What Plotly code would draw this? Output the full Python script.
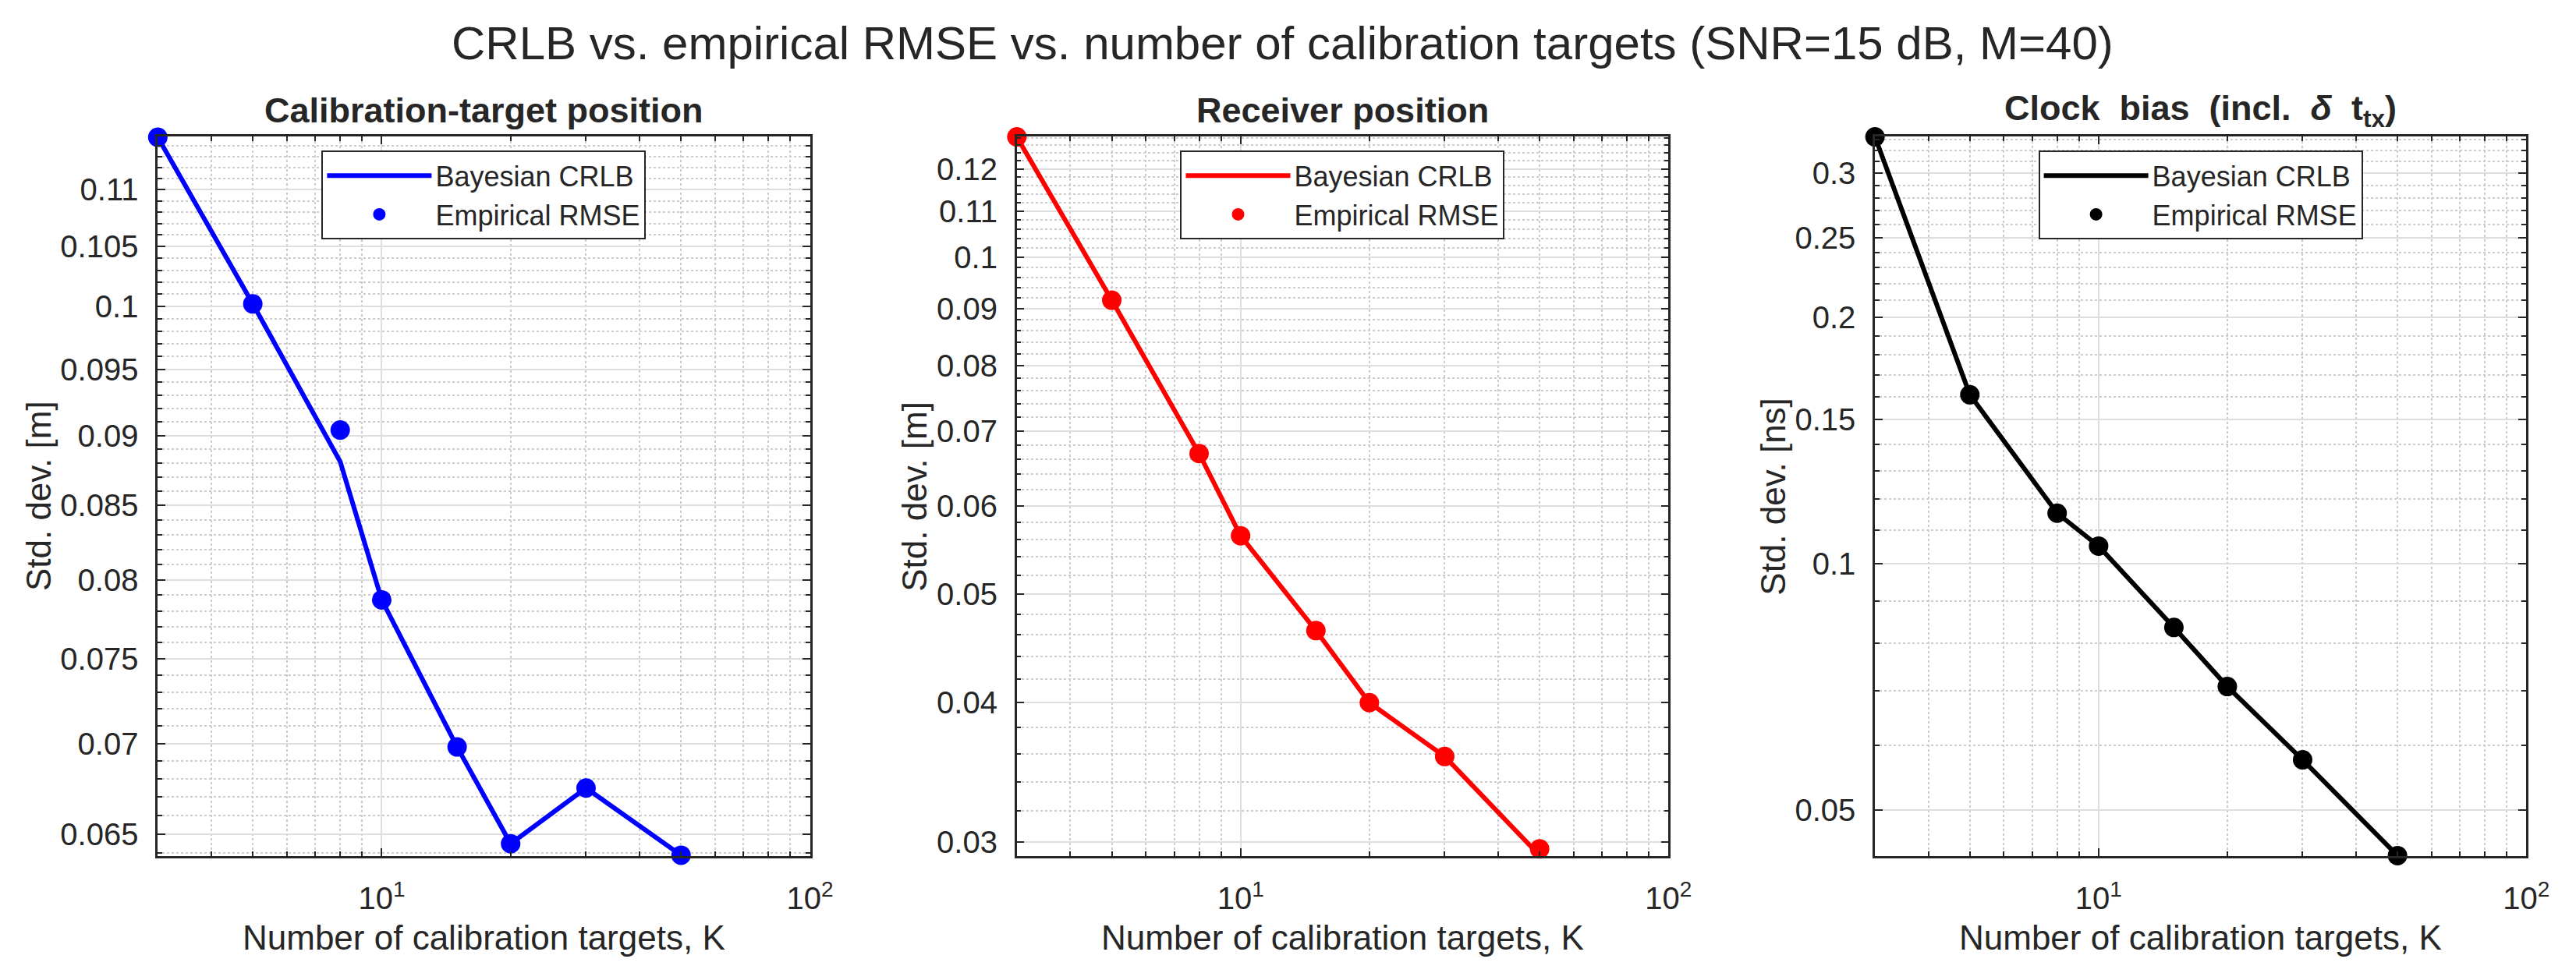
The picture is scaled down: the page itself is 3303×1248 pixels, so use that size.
import numpy as np
import plotly.graph_objects as go
from plotly.subplots import make_subplots

# number of calibration targets
K = [3, 5, 8, 10, 15, 20, 30, 50]

# calibration-target position [m]
crlb_target = [0.1148, 0.1002, 0.0881, 0.0787, 0.0698, 0.0645, 0.0675, 0.0639]
rmse_target = [0.1148, 0.1002, 0.0904, 0.0787, 0.0698, 0.0645, 0.0675, 0.0639]

# receiver position [m]
crlb_rx = [0.1282, 0.0916, 0.0668, 0.0564, 0.0464, 0.0400, 0.0358, 0.0292]
rmse_rx = [0.1282, 0.0916, 0.0668, 0.0564, 0.0464, 0.0400, 0.0358, 0.0296]

# clock bias [ns]
crlb_clk = [0.3324, 0.1609, 0.1153, 0.1051, 0.0836, 0.0708, 0.0576, 0.0440]
rmse_clk = [0.3324, 0.1609, 0.1153, 0.1051, 0.0836, 0.0708, 0.0576, 0.0440]

# y tick labels per panel
yticks_target = [0.065, 0.07, 0.075, 0.08, 0.085, 0.09, 0.095, 0.1, 0.105, 0.11]
yticks_rx = [0.03, 0.04, 0.05, 0.06, 0.07, 0.08, 0.09, 0.1, 0.11, 0.12]
yticks_clk = [0.05, 0.1, 0.15, 0.2, 0.25, 0.3]

main_title = "CRLB vs. empirical RMSE vs. number of calibration targets (SNR=15 dB, M=40)"
panel_titles = ["Calibration-target position", "Receiver position",
                "Clock\u00a0\u00a0bias\u00a0\u00a0(incl.\u00a0\u00a0<i>δ</i>\u00a0\u00a0t<sub>tx</sub>)"]
ylabels = ["Std. dev. [m]", "Std. dev. [m]", "Std. dev. [ns]"]
xlabel = "Number of calibration targets, K"
legend_names = ["Bayesian CRLB", "Empirical RMSE"]

W, H = 3303, 1248
FONT = "Liberation Sans, Arial, Helvetica, sans-serif"
AX = "#262626"

# plot boxes in pixels (left, right), shared top/bottom
boxes = [(196, 1040), (1307.6, 2150.8), (2418, 3260.8)]
top, bottom = 168, 1094
ylab_x = [42, 1175, 2286]
minor_step = [0.001, 0.002, 0.01]
EPS = 2e-4  # keep edge points inside the range so they are drawn


def px(p):
    return p / W


def py(p):
    return 1 - p / H


def minor_vals(lo, hi, step, majors):
    vals = np.round(np.arange(np.ceil(lo / step) * step, hi, step), 6)
    return [v for v in vals if not any(abs(v - m) < 1e-9 for m in majors)]


panels = [
    ("#0000ff", crlb_target, rmse_target, yticks_target),
    ("#ff0000", crlb_rx, rmse_rx, yticks_rx),
    ("#000000", crlb_clk, rmse_clk, yticks_clk),
]

fig = make_subplots(rows=1, cols=3)

xmin = min(K)
xmax = 10 ** np.ceil(np.log10(max(K)))
x_minor = [m * 10 ** e for e in (0, 1) for m in range(2, 10) if xmin < m * 10 ** e < xmax and m * 10 ** e != 10]

annotations = [dict(text=main_title, x=0.5, y=py(48), xref="paper", yref="paper",
                    showarrow=False, xanchor="center", yanchor="middle",
                    font=dict(size=60, color=AX, family=FONT))]

for i, (color, crlb, rmse, yticks) in enumerate(panels):
    col = i + 1
    leg = "legend" if i == 0 else "legend%d" % col
    fig.add_trace(go.Scatter(x=K, y=crlb, mode="lines", name=legend_names[0],
                             line=dict(color=color, width=6), legend=leg, cliponaxis=False),
                  row=1, col=col)
    fig.add_trace(go.Scatter(x=K, y=rmse, mode="markers", name=legend_names[1],
                             marker=dict(color=color, size=25), legend=leg, cliponaxis=False),
                  row=1, col=col)

    lo = min(min(crlb), min(rmse))
    hi = max(max(crlb), max(rmse))
    left, right = boxes[i]

    fig.update_xaxes(type="log", range=[np.log10(xmin) - EPS, np.log10(xmax)], domain=[px(left), px(right)],
                     tickvals=[10, 100], ticktext=["10<sup>1</sup>", "10<sup>2</sup>"],
                     ticks="inside", ticklen=10, tickwidth=2, tickcolor=AX,
                     showline=True, linewidth=2.5, linecolor=AX, mirror="allticks",
                     showgrid=True, gridcolor="#dedede", gridwidth=2, zeroline=False,
                     tickfont=dict(size=40, color=AX, family=FONT), ticklabelstandoff=18,
                     minor=dict(tickvals=x_minor, ticks="inside", ticklen=6, tickwidth=2, tickcolor=AX,
                                showgrid=True, gridcolor="#cccccc", griddash="dot", gridwidth=1.5),
                     row=1, col=col)
    fig.update_yaxes(type="log", range=[np.log10(lo) - EPS, np.log10(hi) + EPS],
                     domain=[py(bottom), py(top)],
                     tickvals=yticks, ticktext=["%g" % v for v in yticks],
                     ticks="inside", ticklen=10, tickwidth=2, tickcolor=AX,
                     showline=True, linewidth=2.5, linecolor=AX, mirror="allticks",
                     showgrid=True, gridcolor="#dedede", gridwidth=2, zeroline=False,
                     tickfont=dict(size=40, color=AX, family=FONT), ticklabelstandoff=14,
                     minor=dict(tickvals=minor_vals(lo, hi, minor_step[i], yticks), ticks="inside",
                                ticklen=6, tickwidth=2, tickcolor=AX,
                                showgrid=True, gridcolor="#cccccc", griddash="dot", gridwidth=1.5),
                     row=1, col=col)

    cx = (left + right) / 2
    annotations.append(dict(text="<b>%s</b>" % panel_titles[i], x=px(cx), y=py(134),
                            xref="paper", yref="paper", showarrow=False,
                            xanchor="center", yanchor="middle",
                            font=dict(size=45, color=AX, family=FONT)))
    annotations.append(dict(text=xlabel, x=px(cx), y=py(1199), xref="paper", yref="paper",
                            showarrow=False, xanchor="center", yanchor="middle",
                            font=dict(size=44, color=AX, family=FONT)))
    annotations.append(dict(text=ylabels[i], x=px(ylab_x[i]), y=py((top + bottom) / 2),
                            xref="paper", yref="paper", showarrow=False, textangle=-90,
                            xanchor="center", yanchor="middle",
                            font=dict(size=44, color=AX, family=FONT)))

    fig.update_layout({leg: dict(x=px(cx), y=py(186), xanchor="center", yanchor="top",
                                 bgcolor="white", bordercolor=AX, borderwidth=2,
                                 itemwidth=134, tracegroupgap=0,
                                 font=dict(size=36, color=AX, family=FONT))})

fig.update_layout(width=W, height=H, margin=dict(l=0, r=0, t=0, b=0),
                  paper_bgcolor="white", plot_bgcolor="white",
                  showlegend=True, annotations=annotations,
                  font=dict(family=FONT, color=AX))

fig.write_html("out.html", config={"displayModeBar": False})
